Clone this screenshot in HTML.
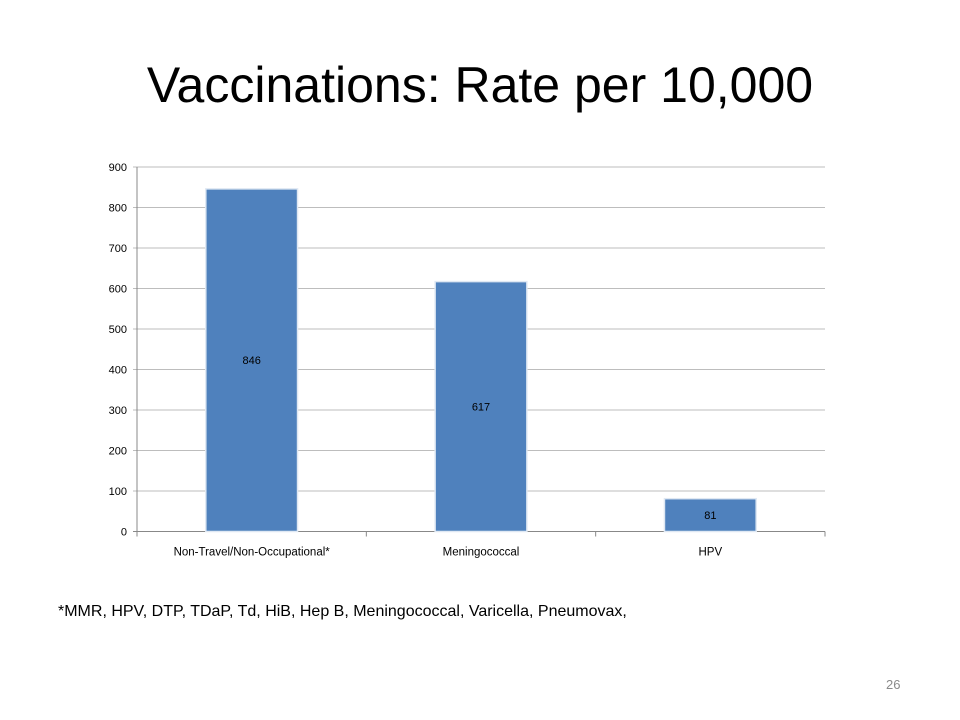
<!DOCTYPE html>
<html><head><meta charset="utf-8"><style>
body{margin:0;width:960px;height:720px;background:#fff;overflow:hidden;position:relative;font-family:"Liberation Sans",Calibri,sans-serif}
#title{position:absolute;left:0;width:960px;top:56px;text-align:center;font-size:50px;color:#000}
#foot{position:absolute;left:58px;top:603px;font-size:16px;color:#000}
#pg{position:absolute;left:886px;top:677px;font-size:13px;color:#8a8a8a}
svg{position:absolute;left:0;top:0}
</style></head><body>
<div id="title">Vaccinations: Rate per 10,000</div>
<svg id="chart" width="960" height="720"></svg>
<div id="foot">*MMR, HPV, DTP, TDaP, Td, HiB, Hep B, Meningococcal, Varicella, Pneumovax,</div>
<div id="pg">26</div>
<script>
const categories=["Non-Travel/Non-Occupational*","Meningococcal","HPV"];
const values=[846,617,81];
const yTicks=[0,100,200,300,400,500,600,700,800,900];
const NS="http://www.w3.org/2000/svg";
const svg=document.getElementById('chart');
const x0=137,x1=825,yTop=167,yBot=531.5,yMax=900;
const y=v=>yBot-(v/yMax)*(yBot-yTop);
const bw=(x1-x0)/categories.length;
const xc=i=>x0+bw*(i+0.5);
function mk(t,a){const e=document.createElementNS(NS,t);for(const k in a)e.setAttribute(k,a[k]);svg.appendChild(e);return e;}
yTicks.forEach(t=>{
  const g=mk('line',{x1:x0-4,x2:x1,y1:y(t),y2:y(t),stroke:t===0?'#888':'#bdbdbd','stroke-width':1});
  
  
  const l=mk('text',{x:x0-10,y:y(t)+4,'text-anchor':'end','font-size':11,fill:'#000','font-family':'Liberation Sans, sans-serif'});
  l.textContent=t;
  
  
});
const ax=mk('line',{x1:x0,x2:x0,y1:yTop,y2:yBot,stroke:'#888'});


for(let i=0;i<=categories.length;i++){
  const tk=mk('line',{x1:x0+bw*i,x2:x0+bw*i,y1:yBot,y2:yBot+5,stroke:'#888'});
  
  
}
categories.forEach((c,i)=>{
  const w=bw*0.4,bx=xc(i)-w/2,by=y(values[i]);
  const r=mk('rect',{x:bx,y:by,width:w,height:yBot-by,fill:'#4f81bd',stroke:'#dfe8f3','stroke-width':1.5});
  
  
  const v=mk('text',{x:xc(i),y:(by+yBot)/2+4,'text-anchor':'middle','font-size':11,fill:'#000','font-family':'Liberation Sans, sans-serif'});
  v.textContent=values[i];
  
  
  const l=mk('text',{x:xc(i),y:yBot+24,'text-anchor':'middle','font-size':11.5,fill:'#000','font-family':'Liberation Sans, sans-serif'});
  l.textContent=c;
  
  
});
</script>
</body></html>
